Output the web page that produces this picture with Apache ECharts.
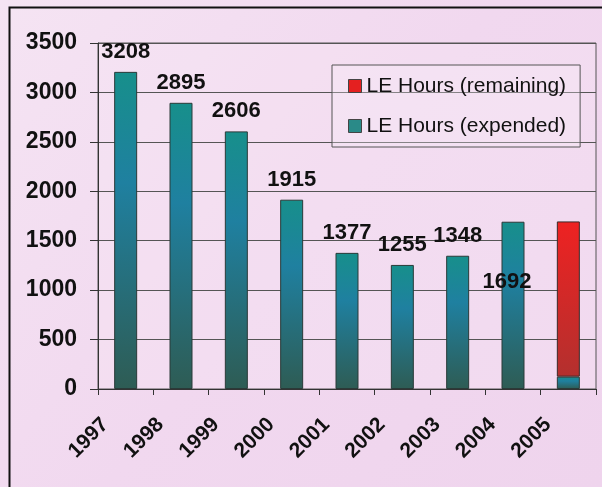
<!DOCTYPE html>
<html>
<head>
<meta charset="utf-8">
<script src="https://cdn.jsdelivr.net/npm/echarts@6/dist/echarts.min.js"></script>
<style>
html,body{margin:0;padding:0;background:#f1d9ef;}
#chart{width:602px;height:487px;}
</style>
</head>
<body>
<div id="chart"></div>
<script>
// ---- data ----
const years = ['1997','1998','1999','2000','2001','2002','2003','2004','2005'];
const expended = [3208, 2895, 2606, 1915, 1377, 1255, 1348, 1692, 125];
const remaining = [null, null, null, null, null, null, null, null, 1570];
const expendedLabels = ['3208','2895','2606','1915','1377','1255','1348','1692',''];
const yTicks = [0, 500, 1000, 1500, 2000, 2500, 3000, 3500];
const seriesNames = ['LE Hours (remaining)', 'LE Hours (expended)'];

const chart = echarts.init(document.getElementById('chart'), null, {renderer:'canvas'});

const tealGrad = new echarts.graphic.LinearGradient(0,0,0,1,[
  {offset:0, color:'#178f8b'},
  {offset:0.35, color:'#1f80a0'},
  {offset:1, color:'#2e5c54'}
]);
const redGrad = new echarts.graphic.LinearGradient(0,0,0,1,[
  {offset:0, color:'#ee2222'},
  {offset:1, color:'#b3302e'}
]);

const expData = expended.map((v,i) => {
  const item = {value: v, label: {show: expendedLabels[i] !== '', formatter: expendedLabels[i]}};
  if (years[i] === '2004') {
    item.label.offset = [-6, 80];
  }
  return item;
});

const option = {
  backgroundColor: new echarts.graphic.LinearGradient(0,0,1,1,[
    {offset:0, color:'#f5e4f3'},
    {offset:0.5, color:'#f1d8ef'},
    {offset:1, color:'#efd4ed'}
  ]),
  animation: false,
  grid: {left: 98, right: 6, top: 43, bottom: 98, show: true, borderColor:'#555', borderWidth:1, backgroundColor:'rgba(248,232,246,0.3)'},
  legend: {
    orient: 'vertical',
    left: 332, top: 65,
    padding: [10, 14, 10, 16],
    itemWidth: 13, itemHeight: 13,
    itemGap: 18,
    icon: 'rect',
    borderColor: '#555', borderWidth: 1,
    backgroundColor: 'rgba(250,238,248,0.3)',
    textStyle: {fontFamily:'Liberation Sans', fontSize: 21, color:'#111', lineHeight: 22}
  },
  xAxis: {
    type: 'category',
    data: years,
    boundaryGap: true,
    axisLine: {lineStyle:{color:'#333', width:1}},
    axisTick: {show:true, alignWithLabel:false, length:6, lineStyle:{color:'#333'}},
    axisLabel: {
      rotate: 45, margin: 12, interval: 0,
      padding: [0, 29, 0, 0],
      fontFamily:'Liberation Sans', fontWeight:'bold', fontSize: 21, color:'#111'
    },
    splitLine: {show:false}
  },
  yAxis: {
    type: 'value',
    min: yTicks[0], max: yTicks[yTicks.length-1], interval: 500,
    axisLine: {show:true, lineStyle:{color:'#333'}},
    axisTick: {show:true, length:8, lineStyle:{color:'#333'}},
    axisLabel: {margin: 21, formatter: v => String(v), fontFamily:'Liberation Sans', fontWeight:'bold', fontSize: 23, color:'#111'},
    splitLine: {show:true, lineStyle:{color:'#555', width:1}}
  },
  series: [
    {
      name: seriesNames[1],
      type: 'bar',
      stack: 'le',
      barWidth: 23,
      data: expData,
      itemStyle: {color: tealGrad, borderColor:'#2a3a38', borderWidth: 1},
      label: {show:true, position:'top', distance: 9, fontFamily:'Liberation Sans', fontWeight:'bold', fontSize: 22, color:'#111'},
      z: 2
    },
    {
      name: seriesNames[0],
      type: 'bar',
      stack: 'le',
      barWidth: 23,
      data: remaining,
      itemStyle: {color: redGrad, borderColor:'#3a2a2a', borderWidth: 1},
      label: {show:false},
      z: 2
    }
  ],
  graphic: [
    {type:'rect', left: 7, top: 5, shape:{x:0, y:0, width: 640, height: 520}, style:{fill:'none', stroke:'#111', lineWidth:2}, z: 100}
  ]
};
option.legend.data = [
  {name: seriesNames[0], itemStyle:{color:'#e42020', borderColor:'#444', borderWidth:1}},
  {name: seriesNames[1], itemStyle:{color:'#2a8a88', borderColor:'#444', borderWidth:1}}
];
chart.setOption(option);
</script>
</body>
</html>
